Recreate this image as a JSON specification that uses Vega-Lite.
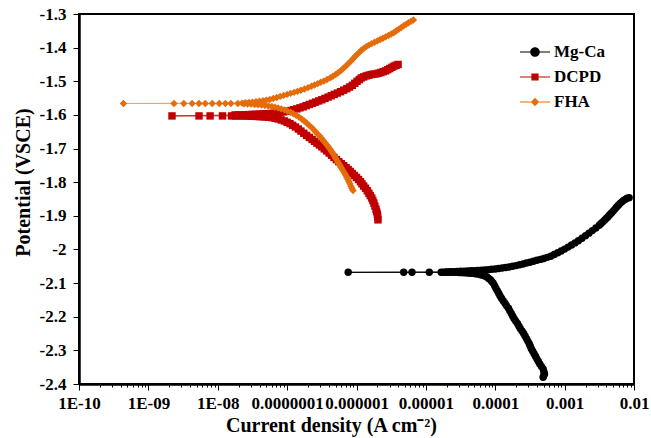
{
  "$schema": "https://vega.github.io/schema/vega-lite/v6.json",
  "autosize": {"type": "none"},
  "padding": {"left": 79, "top": 14, "right": 17, "bottom": 54},
  "width": 555,
  "height": 370,
  "background": "white",
  "config": {
    "font": "Liberation Serif",
    "view": {"stroke": "#000000", "strokeWidth": 2},
    "axis": {
      "grid": false,
      "domainColor": "#000000",
      "domainWidth": 2.5,
      "tickColor": "#000000",
      "tickWidth": 1,
      "labelFont": "Liberation Serif",
      "labelFontWeight": "bold",
      "labelFontSize": 17,
      "labelColor": "#000000",
      "titleFont": "Liberation Serif",
      "titleFontWeight": "bold",
      "titleFontSize": 20,
      "titleColor": "#000000"
    },
    "legend": {
      "labelFont": "Liberation Serif",
      "labelFontWeight": "bold",
      "labelFontSize": 17,
      "labelColor": "#000000"
    }
  },
  "datasets": {
    "tafel": [
      {"series": "Mg-Ca", "k": 1, "i": 4.90e-4, "E": -2.38},
      {"series": "Mg-Ca", "k": 2, "i": 5.01e-4, "E": -2.375},
      {"series": "Mg-Ca", "k": 3, "i": 5.13e-4, "E": -2.37},
      {"series": "Mg-Ca", "k": 4, "i": 5.01e-4, "E": -2.3625},
      {"series": "Mg-Ca", "k": 5, "i": 4.90e-4, "E": -2.355},
      {"series": "Mg-Ca", "k": 6, "i": 4.62e-4, "E": -2.3475},
      {"series": "Mg-Ca", "k": 7, "i": 4.37e-4, "E": -2.34},
      {"series": "Mg-Ca", "k": 8, "i": 4.17e-4, "E": -2.3325},
      {"series": "Mg-Ca", "k": 9, "i": 3.98e-4, "E": -2.325},
      {"series": "Mg-Ca", "k": 10, "i": 3.80e-4, "E": -2.3175},
      {"series": "Mg-Ca", "k": 11, "i": 3.63e-4, "E": -2.31},
      {"series": "Mg-Ca", "k": 12, "i": 3.47e-4, "E": -2.3025},
      {"series": "Mg-Ca", "k": 13, "i": 3.31e-4, "E": -2.295},
      {"series": "Mg-Ca", "k": 14, "i": 3.20e-4, "E": -2.2875},
      {"series": "Mg-Ca", "k": 15, "i": 3.09e-4, "E": -2.28},
      {"series": "Mg-Ca", "k": 16, "i": 2.95e-4, "E": -2.2725},
      {"series": "Mg-Ca", "k": 17, "i": 2.82e-4, "E": -2.265},
      {"series": "Mg-Ca", "k": 18, "i": 2.69e-4, "E": -2.2575},
      {"series": "Mg-Ca", "k": 19, "i": 2.57e-4, "E": -2.25},
      {"series": "Mg-Ca", "k": 20, "i": 2.43e-4, "E": -2.2425},
      {"series": "Mg-Ca", "k": 21, "i": 2.29e-4, "E": -2.235},
      {"series": "Mg-Ca", "k": 22, "i": 2.19e-4, "E": -2.2275},
      {"series": "Mg-Ca", "k": 23, "i": 2.09e-4, "E": -2.22},
      {"series": "Mg-Ca", "k": 24, "i": 1.97e-4, "E": -2.2125},
      {"series": "Mg-Ca", "k": 25, "i": 1.86e-4, "E": -2.205},
      {"series": "Mg-Ca", "k": 26, "i": 1.78e-4, "E": -2.1975},
      {"series": "Mg-Ca", "k": 27, "i": 1.70e-4, "E": -2.19},
      {"series": "Mg-Ca", "k": 28, "i": 1.62e-4, "E": -2.1825},
      {"series": "Mg-Ca", "k": 29, "i": 1.55e-4, "E": -2.175},
      {"series": "Mg-Ca", "k": 30, "i": 1.46e-4, "E": -2.1675},
      {"series": "Mg-Ca", "k": 31, "i": 1.38e-4, "E": -2.16},
      {"series": "Mg-Ca", "k": 32, "i": 1.30e-4, "E": -2.1525},
      {"series": "Mg-Ca", "k": 33, "i": 1.23e-4, "E": -2.145},
      {"series": "Mg-Ca", "k": 34, "i": 1.17e-4, "E": -2.1375},
      {"series": "Mg-Ca", "k": 35, "i": 1.12e-4, "E": -2.13},
      {"series": "Mg-Ca", "k": 36, "i": 1.07e-4, "E": -2.1225},
      {"series": "Mg-Ca", "k": 37, "i": 1.02e-4, "E": -2.115},
      {"series": "Mg-Ca", "k": 38, "i": 9.77e-5, "E": -2.1075},
      {"series": "Mg-Ca", "k": 39, "i": 9.33e-5, "E": -2.10},
      {"series": "Mg-Ca", "k": 40, "i": 8.91e-5, "E": -2.095},
      {"series": "Mg-Ca", "k": 41, "i": 8.51e-5, "E": -2.09},
      {"series": "Mg-Ca", "k": 42, "i": 8.04e-5, "E": -2.086},
      {"series": "Mg-Ca", "k": 43, "i": 7.59e-5, "E": -2.082},
      {"series": "Mg-Ca", "k": 44, "i": 7.08e-5, "E": -2.079},
      {"series": "Mg-Ca", "k": 45, "i": 6.61e-5, "E": -2.077},
      {"series": "Mg-Ca", "k": 46, "i": 6.10e-5, "E": -2.075},
      {"series": "Mg-Ca", "k": 47, "i": 5.62e-5, "E": -2.073},
      {"series": "Mg-Ca", "k": 48, "i": 5.19e-5, "E": -2.072},
      {"series": "Mg-Ca", "k": 49, "i": 4.79e-5, "E": -2.071},
      {"series": "Mg-Ca", "k": 50, "i": 4.37e-5, "E": -2.0705},
      {"series": "Mg-Ca", "k": 51, "i": 3.98e-5, "E": -2.07},
      {"series": "Mg-Ca", "k": 52, "i": 3.63e-5, "E": -2.0695},
      {"series": "Mg-Ca", "k": 53, "i": 3.31e-5, "E": -2.069},
      {"series": "Mg-Ca", "k": 54, "i": 3.02e-5, "E": -2.0685},
      {"series": "Mg-Ca", "k": 55, "i": 2.75e-5, "E": -2.068},
      {"series": "Mg-Ca", "k": 56, "i": 2.51e-5, "E": -2.068},
      {"series": "Mg-Ca", "k": 57, "i": 2.24e-5, "E": -2.068},
      {"series": "Mg-Ca", "k": 58, "i": 2.04e-5, "E": -2.068},
      {"series": "Mg-Ca", "k": 59, "i": 1.91e-5, "E": -2.068},
      {"series": "Mg-Ca", "k": 60, "i": 1.78e-5, "E": -2.068},
      {"series": "Mg-Ca", "k": 61, "i": 1.66e-5, "E": -2.068},
      {"series": "Mg-Ca", "k": 62, "i": 1.12e-5, "E": -2.068},
      {"series": "Mg-Ca", "k": 63, "i": 6.31e-6, "E": -2.068},
      {"series": "Mg-Ca", "k": 64, "i": 4.79e-6, "E": -2.068},
      {"series": "Mg-Ca", "k": 65, "i": 7.59e-7, "E": -2.068},
      {"series": "Mg-Ca", "k": 66, "i": 2.00e-5, "E": -2.067},
      {"series": "Mg-Ca", "k": 67, "i": 2.24e-5, "E": -2.0665},
      {"series": "Mg-Ca", "k": 68, "i": 2.51e-5, "E": -2.066},
      {"series": "Mg-Ca", "k": 69, "i": 2.82e-5, "E": -2.0655},
      {"series": "Mg-Ca", "k": 70, "i": 3.16e-5, "E": -2.065},
      {"series": "Mg-Ca", "k": 71, "i": 3.55e-5, "E": -2.0645},
      {"series": "Mg-Ca", "k": 72, "i": 3.98e-5, "E": -2.064},
      {"series": "Mg-Ca", "k": 73, "i": 4.47e-5, "E": -2.0635},
      {"series": "Mg-Ca", "k": 74, "i": 5.01e-5, "E": -2.063},
      {"series": "Mg-Ca", "k": 75, "i": 5.62e-5, "E": -2.0625},
      {"series": "Mg-Ca", "k": 76, "i": 6.31e-5, "E": -2.062},
      {"series": "Mg-Ca", "k": 77, "i": 7.08e-5, "E": -2.061},
      {"series": "Mg-Ca", "k": 78, "i": 7.94e-5, "E": -2.060},
      {"series": "Mg-Ca", "k": 79, "i": 8.91e-5, "E": -2.059},
      {"series": "Mg-Ca", "k": 80, "i": 1.00e-4, "E": -2.058},
      {"series": "Mg-Ca", "k": 81, "i": 1.12e-4, "E": -2.0565},
      {"series": "Mg-Ca", "k": 82, "i": 1.26e-4, "E": -2.055},
      {"series": "Mg-Ca", "k": 83, "i": 1.41e-4, "E": -2.0535},
      {"series": "Mg-Ca", "k": 84, "i": 1.58e-4, "E": -2.052},
      {"series": "Mg-Ca", "k": 85, "i": 1.78e-4, "E": -2.050},
      {"series": "Mg-Ca", "k": 86, "i": 2.00e-4, "E": -2.048},
      {"series": "Mg-Ca", "k": 87, "i": 2.24e-4, "E": -2.0455},
      {"series": "Mg-Ca", "k": 88, "i": 2.51e-4, "E": -2.043},
      {"series": "Mg-Ca", "k": 89, "i": 2.82e-4, "E": -2.0405},
      {"series": "Mg-Ca", "k": 90, "i": 3.16e-4, "E": -2.038},
      {"series": "Mg-Ca", "k": 91, "i": 3.55e-4, "E": -2.035},
      {"series": "Mg-Ca", "k": 92, "i": 3.98e-4, "E": -2.032},
      {"series": "Mg-Ca", "k": 93, "i": 4.47e-4, "E": -2.0295},
      {"series": "Mg-Ca", "k": 94, "i": 5.01e-4, "E": -2.027},
      {"series": "Mg-Ca", "k": 95, "i": 5.62e-4, "E": -2.0235},
      {"series": "Mg-Ca", "k": 96, "i": 6.31e-4, "E": -2.020},
      {"series": "Mg-Ca", "k": 97, "i": 7.08e-4, "E": -2.015},
      {"series": "Mg-Ca", "k": 98, "i": 7.94e-4, "E": -2.010},
      {"series": "Mg-Ca", "k": 99, "i": 8.91e-4, "E": -2.0045},
      {"series": "Mg-Ca", "k": 100, "i": 1.00e-3, "E": -1.999},
      {"series": "Mg-Ca", "k": 101, "i": 1.12e-3, "E": -1.993},
      {"series": "Mg-Ca", "k": 102, "i": 1.26e-3, "E": -1.987},
      {"series": "Mg-Ca", "k": 103, "i": 1.41e-3, "E": -1.9805},
      {"series": "Mg-Ca", "k": 104, "i": 1.58e-3, "E": -1.974},
      {"series": "Mg-Ca", "k": 105, "i": 1.78e-3, "E": -1.9665},
      {"series": "Mg-Ca", "k": 106, "i": 2.00e-3, "E": -1.959},
      {"series": "Mg-Ca", "k": 107, "i": 2.24e-3, "E": -1.9515},
      {"series": "Mg-Ca", "k": 108, "i": 2.51e-3, "E": -1.944},
      {"series": "Mg-Ca", "k": 109, "i": 2.82e-3, "E": -1.936},
      {"series": "Mg-Ca", "k": 110, "i": 3.16e-3, "E": -1.928},
      {"series": "Mg-Ca", "k": 111, "i": 3.35e-3, "E": -1.923},
      {"series": "Mg-Ca", "k": 112, "i": 3.55e-3, "E": -1.918},
      {"series": "Mg-Ca", "k": 113, "i": 3.76e-3, "E": -1.913},
      {"series": "Mg-Ca", "k": 114, "i": 3.98e-3, "E": -1.908},
      {"series": "Mg-Ca", "k": 115, "i": 4.22e-3, "E": -1.9025},
      {"series": "Mg-Ca", "k": 116, "i": 4.47e-3, "E": -1.897},
      {"series": "Mg-Ca", "k": 117, "i": 4.73e-3, "E": -1.8915},
      {"series": "Mg-Ca", "k": 118, "i": 5.01e-3, "E": -1.886},
      {"series": "Mg-Ca", "k": 119, "i": 5.31e-3, "E": -1.880},
      {"series": "Mg-Ca", "k": 120, "i": 5.62e-3, "E": -1.874},
      {"series": "Mg-Ca", "k": 121, "i": 5.96e-3, "E": -1.8685},
      {"series": "Mg-Ca", "k": 122, "i": 6.31e-3, "E": -1.863},
      {"series": "Mg-Ca", "k": 123, "i": 6.68e-3, "E": -1.8585},
      {"series": "Mg-Ca", "k": 124, "i": 7.08e-3, "E": -1.854},
      {"series": "Mg-Ca", "k": 125, "i": 7.50e-3, "E": -1.851},
      {"series": "Mg-Ca", "k": 126, "i": 7.94e-3, "E": -1.848},
      {"series": "Mg-Ca", "k": 127, "i": 8.51e-3, "E": -1.846},

      {"series": "DCPD", "k": 1, "i": 2.04e-6, "E": -1.912},
      {"series": "DCPD", "k": 2, "i": 2.02e-6, "E": -1.9035},
      {"series": "DCPD", "k": 3, "i": 2.00e-6, "E": -1.895},
      {"series": "DCPD", "k": 4, "i": 1.95e-6, "E": -1.8875},
      {"series": "DCPD", "k": 5, "i": 1.91e-6, "E": -1.88},
      {"series": "DCPD", "k": 6, "i": 1.84e-6, "E": -1.871},
      {"series": "DCPD", "k": 7, "i": 1.78e-6, "E": -1.862},
      {"series": "DCPD", "k": 8, "i": 1.72e-6, "E": -1.8545},
      {"series": "DCPD", "k": 9, "i": 1.66e-6, "E": -1.847},
      {"series": "DCPD", "k": 10, "i": 1.58e-6, "E": -1.84},
      {"series": "DCPD", "k": 11, "i": 1.51e-6, "E": -1.833},
      {"series": "DCPD", "k": 12, "i": 1.43e-6, "E": -1.8255},
      {"series": "DCPD", "k": 13, "i": 1.35e-6, "E": -1.818},
      {"series": "DCPD", "k": 14, "i": 1.27e-6, "E": -1.8115},
      {"series": "DCPD", "k": 15, "i": 1.20e-6, "E": -1.805},
      {"series": "DCPD", "k": 16, "i": 1.14e-6, "E": -1.7985},
      {"series": "DCPD", "k": 17, "i": 1.07e-6, "E": -1.792},
      {"series": "DCPD", "k": 18, "i": 1.00e-6, "E": -1.786},
      {"series": "DCPD", "k": 19, "i": 9.33e-7, "E": -1.78},
      {"series": "DCPD", "k": 20, "i": 8.71e-7, "E": -1.774},
      {"series": "DCPD", "k": 21, "i": 8.13e-7, "E": -1.768},
      {"series": "DCPD", "k": 22, "i": 7.59e-7, "E": -1.7625},
      {"series": "DCPD", "k": 23, "i": 7.08e-7, "E": -1.757},
      {"series": "DCPD", "k": 24, "i": 6.53e-7, "E": -1.751},
      {"series": "DCPD", "k": 25, "i": 6.03e-7, "E": -1.745},
      {"series": "DCPD", "k": 26, "i": 5.56e-7, "E": -1.739},
      {"series": "DCPD", "k": 27, "i": 5.13e-7, "E": -1.733},
      {"series": "DCPD", "k": 28, "i": 4.73e-7, "E": -1.7265},
      {"series": "DCPD", "k": 29, "i": 4.37e-7, "E": -1.72},
      {"series": "DCPD", "k": 30, "i": 4.03e-7, "E": -1.7135},
      {"series": "DCPD", "k": 31, "i": 3.72e-7, "E": -1.707},
      {"series": "DCPD", "k": 32, "i": 3.43e-7, "E": -1.701},
      {"series": "DCPD", "k": 33, "i": 3.16e-7, "E": -1.695},
      {"series": "DCPD", "k": 34, "i": 2.92e-7, "E": -1.6895},
      {"series": "DCPD", "k": 35, "i": 2.69e-7, "E": -1.684},
      {"series": "DCPD", "k": 36, "i": 2.48e-7, "E": -1.6785},
      {"series": "DCPD", "k": 37, "i": 2.29e-7, "E": -1.673},
      {"series": "DCPD", "k": 38, "i": 2.09e-7, "E": -1.667},
      {"series": "DCPD", "k": 39, "i": 1.91e-7, "E": -1.661},
      {"series": "DCPD", "k": 40, "i": 1.74e-7, "E": -1.6545},
      {"series": "DCPD", "k": 41, "i": 1.58e-7, "E": -1.648},
      {"series": "DCPD", "k": 42, "i": 1.45e-7, "E": -1.642},
      {"series": "DCPD", "k": 43, "i": 1.32e-7, "E": -1.636},
      {"series": "DCPD", "k": 44, "i": 1.20e-7, "E": -1.631},
      {"series": "DCPD", "k": 45, "i": 1.10e-7, "E": -1.626},
      {"series": "DCPD", "k": 46, "i": 1.00e-7, "E": -1.622},
      {"series": "DCPD", "k": 47, "i": 9.12e-8, "E": -1.618},
      {"series": "DCPD", "k": 48, "i": 8.22e-8, "E": -1.615},
      {"series": "DCPD", "k": 49, "i": 7.41e-8, "E": -1.612},
      {"series": "DCPD", "k": 50, "i": 6.68e-8, "E": -1.61},
      {"series": "DCPD", "k": 51, "i": 6.03e-8, "E": -1.608},
      {"series": "DCPD", "k": 52, "i": 5.43e-8, "E": -1.607},
      {"series": "DCPD", "k": 53, "i": 4.90e-8, "E": -1.606},
      {"series": "DCPD", "k": 54, "i": 4.42e-8, "E": -1.6055},
      {"series": "DCPD", "k": 55, "i": 3.98e-8, "E": -1.605},
      {"series": "DCPD", "k": 56, "i": 3.55e-8, "E": -1.6045},
      {"series": "DCPD", "k": 57, "i": 3.16e-8, "E": -1.604},
      {"series": "DCPD", "k": 58, "i": 2.82e-8, "E": -1.6035},
      {"series": "DCPD", "k": 59, "i": 2.51e-8, "E": -1.603},
      {"series": "DCPD", "k": 60, "i": 2.24e-8, "E": -1.603},
      {"series": "DCPD", "k": 61, "i": 2.00e-8, "E": -1.603},
      {"series": "DCPD", "k": 62, "i": 1.78e-8, "E": -1.603},
      {"series": "DCPD", "k": 63, "i": 1.58e-8, "E": -1.603},
      {"series": "DCPD", "k": 64, "i": 1.17e-8, "E": -1.603},
      {"series": "DCPD", "k": 65, "i": 7.76e-9, "E": -1.603},
      {"series": "DCPD", "k": 66, "i": 5.37e-9, "E": -1.603},
      {"series": "DCPD", "k": 67, "i": 2.19e-9, "E": -1.603},
      {"series": "DCPD", "k": 68, "i": 1.78e-8, "E": -1.600},
      {"series": "DCPD", "k": 69, "i": 2.00e-8, "E": -1.600},
      {"series": "DCPD", "k": 70, "i": 2.24e-8, "E": -1.600},
      {"series": "DCPD", "k": 71, "i": 2.51e-8, "E": -1.5995},
      {"series": "DCPD", "k": 72, "i": 2.82e-8, "E": -1.599},
      {"series": "DCPD", "k": 73, "i": 3.16e-8, "E": -1.5985},
      {"series": "DCPD", "k": 74, "i": 3.55e-8, "E": -1.598},
      {"series": "DCPD", "k": 75, "i": 3.98e-8, "E": -1.5975},
      {"series": "DCPD", "k": 76, "i": 4.47e-8, "E": -1.597},
      {"series": "DCPD", "k": 77, "i": 5.01e-8, "E": -1.5965},
      {"series": "DCPD", "k": 78, "i": 5.62e-8, "E": -1.596},
      {"series": "DCPD", "k": 79, "i": 6.31e-8, "E": -1.595},
      {"series": "DCPD", "k": 80, "i": 7.08e-8, "E": -1.594},
      {"series": "DCPD", "k": 81, "i": 7.94e-8, "E": -1.5925},
      {"series": "DCPD", "k": 82, "i": 8.91e-8, "E": -1.591},
      {"series": "DCPD", "k": 83, "i": 1.00e-7, "E": -1.589},
      {"series": "DCPD", "k": 84, "i": 1.12e-7, "E": -1.587},
      {"series": "DCPD", "k": 85, "i": 1.24e-7, "E": -1.5845},
      {"series": "DCPD", "k": 86, "i": 1.38e-7, "E": -1.582},
      {"series": "DCPD", "k": 87, "i": 1.53e-7, "E": -1.579},
      {"series": "DCPD", "k": 88, "i": 1.70e-7, "E": -1.576},
      {"series": "DCPD", "k": 89, "i": 1.88e-7, "E": -1.5725},
      {"series": "DCPD", "k": 90, "i": 2.09e-7, "E": -1.569},
      {"series": "DCPD", "k": 91, "i": 2.32e-7, "E": -1.5655},
      {"series": "DCPD", "k": 92, "i": 2.57e-7, "E": -1.562},
      {"series": "DCPD", "k": 93, "i": 2.85e-7, "E": -1.5585},
      {"series": "DCPD", "k": 94, "i": 3.16e-7, "E": -1.555},
      {"series": "DCPD", "k": 95, "i": 3.51e-7, "E": -1.551},
      {"series": "DCPD", "k": 96, "i": 3.89e-7, "E": -1.547},
      {"series": "DCPD", "k": 97, "i": 4.32e-7, "E": -1.543},
      {"series": "DCPD", "k": 98, "i": 4.79e-7, "E": -1.539},
      {"series": "DCPD", "k": 99, "i": 5.31e-7, "E": -1.535},
      {"series": "DCPD", "k": 100, "i": 5.89e-7, "E": -1.531},
      {"series": "DCPD", "k": 101, "i": 6.53e-7, "E": -1.5265},
      {"series": "DCPD", "k": 102, "i": 7.24e-7, "E": -1.522},
      {"series": "DCPD", "k": 103, "i": 7.94e-7, "E": -1.517},
      {"series": "DCPD", "k": 104, "i": 8.71e-7, "E": -1.512},
      {"series": "DCPD", "k": 105, "i": 9.44e-7, "E": -1.506},
      {"series": "DCPD", "k": 106, "i": 1.02e-6, "E": -1.500},
      {"series": "DCPD", "k": 107, "i": 1.10e-6, "E": -1.495},
      {"series": "DCPD", "k": 108, "i": 1.17e-6, "E": -1.490},
      {"series": "DCPD", "k": 109, "i": 1.27e-6, "E": -1.487},
      {"series": "DCPD", "k": 110, "i": 1.38e-6, "E": -1.484},
      {"series": "DCPD", "k": 111, "i": 1.50e-6, "E": -1.482},
      {"series": "DCPD", "k": 112, "i": 1.62e-6, "E": -1.480},
      {"series": "DCPD", "k": 113, "i": 1.76e-6, "E": -1.479},
      {"series": "DCPD", "k": 114, "i": 1.91e-6, "E": -1.478},
      {"series": "DCPD", "k": 115, "i": 2.07e-6, "E": -1.476},
      {"series": "DCPD", "k": 116, "i": 2.24e-6, "E": -1.474},
      {"series": "DCPD", "k": 117, "i": 2.43e-6, "E": -1.4715},
      {"series": "DCPD", "k": 118, "i": 2.63e-6, "E": -1.469},
      {"series": "DCPD", "k": 119, "i": 2.82e-6, "E": -1.4655},
      {"series": "DCPD", "k": 120, "i": 3.02e-6, "E": -1.462},
      {"series": "DCPD", "k": 121, "i": 3.24e-6, "E": -1.4585},
      {"series": "DCPD", "k": 122, "i": 3.47e-6, "E": -1.455},
      {"series": "DCPD", "k": 123, "i": 3.72e-6, "E": -1.4525},
      {"series": "DCPD", "k": 124, "i": 3.98e-6, "E": -1.450},

      {"series": "FHA", "k": 1, "i": 8.91e-7, "E": -1.825},
      {"series": "FHA", "k": 2, "i": 8.61e-7, "E": -1.8185},
      {"series": "FHA", "k": 3, "i": 8.32e-7, "E": -1.812},
      {"series": "FHA", "k": 4, "i": 8.04e-7, "E": -1.805},
      {"series": "FHA", "k": 5, "i": 7.76e-7, "E": -1.798},
      {"series": "FHA", "k": 6, "i": 7.50e-7, "E": -1.7915},
      {"series": "FHA", "k": 7, "i": 7.24e-7, "E": -1.785},
      {"series": "FHA", "k": 8, "i": 6.92e-7, "E": -1.778},
      {"series": "FHA", "k": 9, "i": 6.61e-7, "E": -1.771},
      {"series": "FHA", "k": 10, "i": 6.31e-7, "E": -1.764},
      {"series": "FHA", "k": 11, "i": 6.03e-7, "E": -1.757},
      {"series": "FHA", "k": 12, "i": 5.75e-7, "E": -1.75},
      {"series": "FHA", "k": 13, "i": 5.50e-7, "E": -1.743},
      {"series": "FHA", "k": 14, "i": 5.25e-7, "E": -1.736},
      {"series": "FHA", "k": 15, "i": 5.01e-7, "E": -1.729},
      {"series": "FHA", "k": 16, "i": 4.79e-7, "E": -1.722},
      {"series": "FHA", "k": 17, "i": 4.57e-7, "E": -1.715},
      {"series": "FHA", "k": 18, "i": 4.37e-7, "E": -1.7085},
      {"series": "FHA", "k": 19, "i": 4.17e-7, "E": -1.702},
      {"series": "FHA", "k": 20, "i": 3.94e-7, "E": -1.6955},
      {"series": "FHA", "k": 21, "i": 3.72e-7, "E": -1.689},
      {"series": "FHA", "k": 22, "i": 3.51e-7, "E": -1.6825},
      {"series": "FHA", "k": 23, "i": 3.31e-7, "E": -1.676},
      {"series": "FHA", "k": 24, "i": 3.13e-7, "E": -1.6695},
      {"series": "FHA", "k": 25, "i": 2.95e-7, "E": -1.663},
      {"series": "FHA", "k": 26, "i": 2.75e-7, "E": -1.6565},
      {"series": "FHA", "k": 27, "i": 2.57e-7, "E": -1.650},
      {"series": "FHA", "k": 28, "i": 2.40e-7, "E": -1.6435},
      {"series": "FHA", "k": 29, "i": 2.24e-7, "E": -1.637},
      {"series": "FHA", "k": 30, "i": 2.07e-7, "E": -1.6305},
      {"series": "FHA", "k": 31, "i": 1.91e-7, "E": -1.624},
      {"series": "FHA", "k": 32, "i": 1.76e-7, "E": -1.618},
      {"series": "FHA", "k": 33, "i": 1.62e-7, "E": -1.612},
      {"series": "FHA", "k": 34, "i": 1.48e-7, "E": -1.6065},
      {"series": "FHA", "k": 35, "i": 1.35e-7, "E": -1.601},
      {"series": "FHA", "k": 36, "i": 1.23e-7, "E": -1.5965},
      {"series": "FHA", "k": 37, "i": 1.12e-7, "E": -1.592},
      {"series": "FHA", "k": 38, "i": 1.01e-7, "E": -1.5885},
      {"series": "FHA", "k": 39, "i": 9.12e-8, "E": -1.585},
      {"series": "FHA", "k": 40, "i": 8.22e-8, "E": -1.582},
      {"series": "FHA", "k": 41, "i": 7.41e-8, "E": -1.579},
      {"series": "FHA", "k": 42, "i": 6.68e-8, "E": -1.577},
      {"series": "FHA", "k": 43, "i": 6.03e-8, "E": -1.575},
      {"series": "FHA", "k": 44, "i": 5.37e-8, "E": -1.5735},
      {"series": "FHA", "k": 45, "i": 4.79e-8, "E": -1.572},
      {"series": "FHA", "k": 46, "i": 4.27e-8, "E": -1.571},
      {"series": "FHA", "k": 47, "i": 3.80e-8, "E": -1.570},
      {"series": "FHA", "k": 48, "i": 3.39e-8, "E": -1.569},
      {"series": "FHA", "k": 49, "i": 3.02e-8, "E": -1.568},
      {"series": "FHA", "k": 50, "i": 2.69e-8, "E": -1.5675},
      {"series": "FHA", "k": 51, "i": 2.40e-8, "E": -1.567},
      {"series": "FHA", "k": 52, "i": 1.95e-8, "E": -1.566},
      {"series": "FHA", "k": 53, "i": 1.55e-8, "E": -1.566},
      {"series": "FHA", "k": 54, "i": 1.29e-8, "E": -1.566},
      {"series": "FHA", "k": 55, "i": 1.05e-8, "E": -1.566},
      {"series": "FHA", "k": 56, "i": 8.32e-9, "E": -1.566},
      {"series": "FHA", "k": 57, "i": 6.61e-9, "E": -1.566},
      {"series": "FHA", "k": 58, "i": 5.37e-9, "E": -1.566},
      {"series": "FHA", "k": 59, "i": 4.27e-9, "E": -1.566},
      {"series": "FHA", "k": 60, "i": 3.24e-9, "E": -1.566},
      {"series": "FHA", "k": 61, "i": 2.34e-9, "E": -1.566},
      {"series": "FHA", "k": 62, "i": 4.37e-10, "E": -1.566},
      {"series": "FHA", "k": 63, "i": 2.24e-8, "E": -1.565},
      {"series": "FHA", "k": 64, "i": 2.51e-8, "E": -1.564},
      {"series": "FHA", "k": 65, "i": 2.82e-8, "E": -1.563},
      {"series": "FHA", "k": 66, "i": 3.16e-8, "E": -1.562},
      {"series": "FHA", "k": 67, "i": 3.55e-8, "E": -1.561},
      {"series": "FHA", "k": 68, "i": 3.98e-8, "E": -1.5595},
      {"series": "FHA", "k": 69, "i": 4.47e-8, "E": -1.558},
      {"series": "FHA", "k": 70, "i": 5.01e-8, "E": -1.556},
      {"series": "FHA", "k": 71, "i": 5.62e-8, "E": -1.554},
      {"series": "FHA", "k": 72, "i": 6.31e-8, "E": -1.551},
      {"series": "FHA", "k": 73, "i": 7.08e-8, "E": -1.548},
      {"series": "FHA", "k": 74, "i": 7.94e-8, "E": -1.545},
      {"series": "FHA", "k": 75, "i": 8.91e-8, "E": -1.542},
      {"series": "FHA", "k": 76, "i": 1.00e-7, "E": -1.539},
      {"series": "FHA", "k": 77, "i": 1.12e-7, "E": -1.536},
      {"series": "FHA", "k": 78, "i": 1.26e-7, "E": -1.533},
      {"series": "FHA", "k": 79, "i": 1.41e-7, "E": -1.530},
      {"series": "FHA", "k": 80, "i": 1.58e-7, "E": -1.5265},
      {"series": "FHA", "k": 81, "i": 1.78e-7, "E": -1.523},
      {"series": "FHA", "k": 82, "i": 2.00e-7, "E": -1.519},
      {"series": "FHA", "k": 83, "i": 2.24e-7, "E": -1.515},
      {"series": "FHA", "k": 84, "i": 2.48e-7, "E": -1.511},
      {"series": "FHA", "k": 85, "i": 2.75e-7, "E": -1.507},
      {"series": "FHA", "k": 86, "i": 3.05e-7, "E": -1.503},
      {"series": "FHA", "k": 87, "i": 3.39e-7, "E": -1.499},
      {"series": "FHA", "k": 88, "i": 3.76e-7, "E": -1.4945},
      {"series": "FHA", "k": 89, "i": 4.17e-7, "E": -1.490},
      {"series": "FHA", "k": 90, "i": 4.57e-7, "E": -1.485},
      {"series": "FHA", "k": 91, "i": 5.01e-7, "E": -1.480},
      {"series": "FHA", "k": 92, "i": 5.43e-7, "E": -1.4745},
      {"series": "FHA", "k": 93, "i": 5.89e-7, "E": -1.469},
      {"series": "FHA", "k": 94, "i": 6.31e-7, "E": -1.4635},
      {"series": "FHA", "k": 95, "i": 6.76e-7, "E": -1.458},
      {"series": "FHA", "k": 96, "i": 7.24e-7, "E": -1.452},
      {"series": "FHA", "k": 97, "i": 7.76e-7, "E": -1.446},
      {"series": "FHA", "k": 98, "i": 8.32e-7, "E": -1.4395},
      {"series": "FHA", "k": 99, "i": 8.91e-7, "E": -1.433},
      {"series": "FHA", "k": 100, "i": 9.55e-7, "E": -1.4265},
      {"series": "FHA", "k": 101, "i": 1.02e-6, "E": -1.420},
      {"series": "FHA", "k": 102, "i": 1.10e-6, "E": -1.414},
      {"series": "FHA", "k": 103, "i": 1.17e-6, "E": -1.408},
      {"series": "FHA", "k": 104, "i": 1.27e-6, "E": -1.4025},
      {"series": "FHA", "k": 105, "i": 1.38e-6, "E": -1.397},
      {"series": "FHA", "k": 106, "i": 1.51e-6, "E": -1.3925},
      {"series": "FHA", "k": 107, "i": 1.66e-6, "E": -1.388},
      {"series": "FHA", "k": 108, "i": 1.82e-6, "E": -1.384},
      {"series": "FHA", "k": 109, "i": 2.00e-6, "E": -1.380},
      {"series": "FHA", "k": 110, "i": 2.19e-6, "E": -1.376},
      {"series": "FHA", "k": 111, "i": 2.40e-6, "E": -1.372},
      {"series": "FHA", "k": 112, "i": 2.63e-6, "E": -1.368},
      {"series": "FHA", "k": 113, "i": 2.88e-6, "E": -1.364},
      {"series": "FHA", "k": 114, "i": 3.16e-6, "E": -1.3595},
      {"series": "FHA", "k": 115, "i": 3.47e-6, "E": -1.355},
      {"series": "FHA", "k": 116, "i": 3.76e-6, "E": -1.350},
      {"series": "FHA", "k": 117, "i": 4.07e-6, "E": -1.345},
      {"series": "FHA", "k": 118, "i": 4.42e-6, "E": -1.340},
      {"series": "FHA", "k": 119, "i": 4.79e-6, "E": -1.335},
      {"series": "FHA", "k": 120, "i": 5.19e-6, "E": -1.3305},
      {"series": "FHA", "k": 121, "i": 5.62e-6, "E": -1.326},
      {"series": "FHA", "k": 122, "i": 6.10e-6, "E": -1.322},
      {"series": "FHA", "k": 123, "i": 6.61e-6, "E": -1.318}
    ]
  },
  "data": {"name": "tafel"},
  "encoding": {
    "x": {
      "field": "i",
      "type": "quantitative",
      "scale": {"type": "log", "domain": [1e-10, 0.01], "nice": false},
      "axis": {
        "title": "Current density (A cm⁻²)",
        "titleX": 252,
        "values": [1e-10, 2e-10, 3e-10, 4e-10, 5e-10, 6e-10, 7e-10, 8e-10, 9e-10,
                   1e-9, 2e-9, 3e-9, 4e-9, 5e-9, 6e-9, 7e-9, 8e-9, 9e-9,
                   1e-8, 2e-8, 3e-8, 4e-8, 5e-8, 6e-8, 7e-8, 8e-8, 9e-8,
                   1e-7, 2e-7, 3e-7, 4e-7, 5e-7, 6e-7, 7e-7, 8e-7, 9e-7,
                   1e-6, 2e-6, 3e-6, 4e-6, 5e-6, 6e-6, 7e-6, 8e-6, 9e-6,
                   1e-5, 2e-5, 3e-5, 4e-5, 5e-5, 6e-5, 7e-5, 8e-5, 9e-5,
                   1e-4, 2e-4, 3e-4, 4e-4, 5e-4, 6e-4, 7e-4, 8e-4, 9e-4,
                   1e-3, 2e-3, 3e-3, 4e-3, 5e-3, 6e-3, 7e-3, 8e-3, 9e-3, 1e-2],
        "labelExpr": "abs(log(datum.value)/LN10 - round(log(datum.value)/LN10)) > 0.01 ? '' : datum.value < 2e-10 ? '1E-10' : datum.value < 2e-9 ? '1E-09' : datum.value < 2e-8 ? '1E-08' : datum.value < 2e-7 ? '0.0000001' : datum.value < 2e-6 ? '0.000001' : datum.value < 2e-5 ? '0.00001' : datum.value < 2e-4 ? '0.0001' : datum.value < 2e-3 ? '0.001' : '0.01'",
        "tickSize": {"condition": {"test": "abs(log(datum.value)/LN10 - round(log(datum.value)/LN10)) < 0.01", "value": 6}, "value": 3},
        "labelOverlap": false,
        "labelFlush": false,
        "labelBound": false,
        "labelPadding": 5,
        "titlePadding": 4
      }
    },
    "y": {
      "field": "E",
      "type": "quantitative",
      "scale": {"domain": [-2.4, -1.3], "nice": false, "zero": false},
      "axis": {
        "title": "Potential (VSCE)",
        "titleY": 168,
        "values": [-2.4, -2.3, -2.2, -2.1, -2.0, -1.9, -1.8, -1.7, -1.6, -1.5, -1.4, -1.3],
        "labelExpr": "(datum.value < 0 ? '-' : '') + format(abs(datum.value), '~g')",
        "tickSize": 6,
        "labelPadding": 7,
        "titlePadding": 6
      }
    }
  },
  "resolve": {"scale": {"shape": "independent", "fill": "independent"}},
  "layer": [
    {
      "mark": {"type": "line", "strokeWidth": 1, "clip": true},
      "encoding": {
        "order": {"field": "k", "type": "quantitative"},
        "stroke": {
          "field": "series",
          "type": "nominal",
          "scale": {"domain": ["Mg-Ca", "DCPD", "FHA"], "range": ["#000000", "#D02020", "#F2A36B"]},
          "legend": null
        }
      }
    },
    {
      "mark": {"type": "point", "filled": true, "opacity": 1, "size": 55, "clip": true},
      "encoding": {
        "fill": {
          "field": "series",
          "type": "nominal",
          "scale": {"domain": ["Mg-Ca", "DCPD", "FHA"], "range": ["#000000", "#C00000", "#E46C0A"]},
          "legend": null
        },
        "shape": {
          "field": "series",
          "type": "nominal",
          "scale": {"domain": ["Mg-Ca", "DCPD", "FHA"], "range": ["circle", "square", "diamond"]},
          "legend": null
        }
      }
    },
    {
      "transform": [{"filter": "false"}],
      "mark": {"type": "point", "filled": true, "opacity": 1},
      "encoding": {
        "fill": {
          "field": "series",
          "type": "nominal",
          "scale": {"domain": ["Mg-Ca", "DCPD", "FHA"], "range": ["#000000", "#C00000", "#E46C0A"]},
          "legend": {
            "title": null,
            "orient": "top-right",
            "offset": 29,
            "padding": 0,
            "rowPadding": 8,
            "symbolSize": 256,
            "symbolOpacity": 1,
            "labelOffset": 10
          }
        },
        "shape": {
          "field": "series",
          "type": "nominal",
          "scale": {
            "domain": ["Mg-Ca", "DCPD", "FHA"],
            "range": [
              "M-1.875,-0.075H-0.6V0.075H-1.875Z M0.6,-0.075H1.875V0.075H0.6Z M0.6,0A0.6,0.6 0 1 1 -0.6,0A0.6,0.6 0 1 1 0.6,0Z",
              "M-1.875,-0.075H-0.45V0.075H-1.875Z M0.45,-0.075H1.875V0.075H0.45Z M-0.45,-0.45H0.45V0.45H-0.45Z",
              "M-1.875,-0.075H-0.525V0.075H-1.875Z M0.525,-0.075H1.875V0.075H0.525Z M0,-0.525L0.525,0L0,0.525L-0.525,0Z"
            ]
          },
          "legend": {
            "title": null,
            "orient": "top-right",
            "offset": 29,
            "padding": 0,
            "rowPadding": 8,
            "symbolSize": 256,
            "symbolOpacity": 1,
            "labelOffset": 10
          }
        }
      }
    }
  ]
}
